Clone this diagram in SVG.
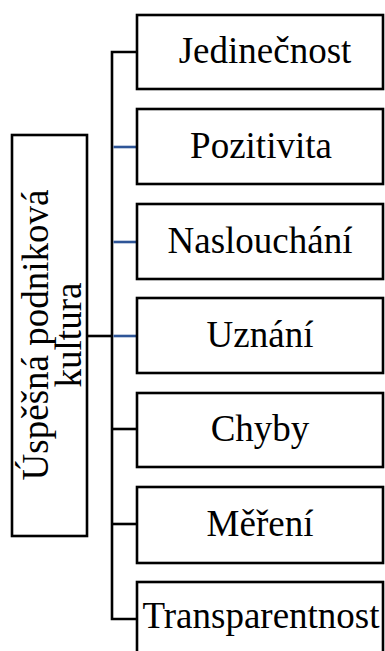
<svg xmlns="http://www.w3.org/2000/svg" width="385" height="651" viewBox="0 0 385 651">
<style>
.box{fill:#fff;stroke:#000;stroke-width:2.6}
.t{font-family:"Liberation Serif","Times New Roman",serif;font-size:37px;fill:#000;text-anchor:middle}
.k{fill:none;stroke:#000;stroke-width:2.6}
.b{fill:none;stroke:#2E5597;stroke-width:2.6}
</style>
<rect width="385" height="651" fill="#fff"/>
<g id="connectors">
<path class="k" d="M137,52 H112 V619 H137"/>
<path class="k" d="M87,336 H112"/>
<path class="k" d="M112,429 H137"/>
<path class="k" d="M112,524 H137"/>
<path class="b" d="M113.5,147 H137"/>
<path class="b" d="M113.5,242 H137"/>
<path class="b" d="M113.5,336 H137"/>
</g>
<g id="root">
<rect class="box" x="12" y="135" width="75" height="401"/>
<text class="t" transform="translate(48,335) rotate(-90)">Úspěšná podniková</text>
<text class="t" transform="translate(81,335) rotate(-90)">kultura</text>
</g>
<g id="n1"><rect class="box" x="137" y="15" width="246" height="74"/><text class="t" x="265" y="63">Jedinečnost</text></g>
<g id="n2"><rect class="box" x="137" y="109" width="246" height="75"/><text class="t" x="261" y="158">Pozitivita</text></g>
<g id="n3"><rect class="box" x="137" y="204" width="246" height="75"/><text class="t" x="260" y="253">Naslouchání</text></g>
<g id="n4"><rect class="box" x="137" y="298" width="246" height="75"/><text class="t" x="260" y="347">Uznání</text></g>
<g id="n5"><rect class="box" x="137" y="393" width="246" height="74"/><text class="t" x="260" y="441">Chyby</text></g>
<g id="n6"><rect class="box" x="137" y="487" width="246" height="76"/><text class="t" x="260" y="536">Měření</text></g>
<g id="n7"><rect class="box" x="137" y="582" width="246" height="90"/><text class="t" x="261" y="628">Transparentnost</text></g>
</svg>
